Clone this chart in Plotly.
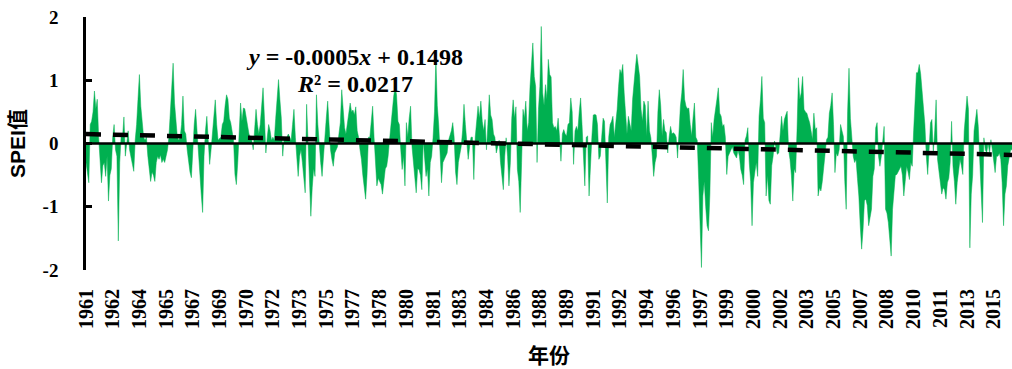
import plotly.graph_objects as go

# Monthly SPEI values, one row per year (Jan..Dec)
spei_1961_1970 = [
    -0.3, -0.45, -0.62, 0.3, 0.35, 0.5, 0.83, 0.55, 0.7, 0.1, -0.3, -0.62,
    -0.35, -0.3, -0.52, -0.2, -0.91, -0.5, -0.4, 0.1, 0.3, -0.1, -0.2, -1.54,
    -0.3, 0.12, 0.1, 0.42, -0.2, 0.05, 0.2, -0.1, -0.2, -0.35, -0.44, 0.05,
    0.3, 0.7, 1.09, 0.59, 0.3, 0.1, 0.05, 0.1, -0.2, -0.45, -0.6, -0.45,
    -0.5, -0.6, -0.3, -0.2, -0.25, -0.18, -0.3, -0.25, -0.3, -0.2, -0.1, 0.1,
    0.5, 0.8, 1.27, 0.64, 0.3, 0.1, 0.05, 0.1, 0.3, 0.75, 0.2, 0.15,
    -0.1, -0.3, -0.45, -0.54, -0.1, 0.3, 0.54, 0.2, -0.3, -0.6, -0.8, -1.09,
    -0.2, 0.2, 0.43, 0.05, -0.33, -0.1, 0.2, 0.45, 0.69, 0.3, 0.05, 0.08,
    0.1, 0.3, 0.35, 0.6, 0.77, 0.7, 0.4, 0.33, 0.2, 0.05, -0.49, -0.65,
    -0.3, 0.3, 0.64, 0.35, 0.56, 0.55, 0.4, 0.27, 0.15, 0.1, 0.05, -0.1,
]
spei_1971_1980 = [
    0.2, 0.54, 0.3, 0.15, 0.3, 0.56, 0.88, 0.4, -0.15, 0.1, 0.3, 0.2,
    0.05, 0.1, 0.05, 0.4, 0.8, 1.01, 0.69, 0.4, -0.2, 0.1, 0.05, 0.1,
    0.15, 0.1, 0.05, 0.3, 0.54, 0.1, -0.3, -0.52, -0.2, -0.1, -0.3, -0.5,
    -0.78, 0.62, 0.1, -0.5, -1.15, -0.7, -0.4, -0.52, 0.77, 0.3, -0.1, -0.3,
    -0.52, -0.2, 0.2, 0.4, 0.67, 0.2, -0.1, -0.25, -0.36, -0.15, -0.1, -0.05,
    0.15, 0.33, 0.85, 0.5, 0.25, 0.15, 0.3, 0.45, 0.64, 0.5, 0.53, 0.45,
    0.58, 0.2, 0.1, -0.1, -0.25, -0.5, -0.7, -0.88, -0.5, 0.1, 0.1, 0.3,
    0.59, 0.1, -0.4, -0.67, -0.55, -0.6, -0.65, -0.8, -0.55, -0.4, -0.36, -0.2,
    0.05, 0.3, 0.6, 0.75, 0.9, 0.77, 0.35, 0.3, -0.1, -0.41, -0.2, -0.67,
    0.33, 0.1, 0.4, 0.59, -0.05, -0.3, -0.52, -0.78, -0.4, -0.41, -0.5, -0.73,
]
spei_1981_1990 = [
    0.05, -0.3, -0.52, -0.4, -0.83, -0.3, -0.2, 0.1, 0.5, 1.35, 0.6, 0.3,
    -0.1, -0.62, -0.3, -0.25, -0.2, -0.15, 0.05, 0.12, 0.2, 0.33, 0.1, -0.45,
    -0.65, -0.3, -0.2, -0.05, 0.2, 0.62, 0.3, 0.05, -0.25, -0.05, 0.1, 0.1,
    -0.57, 0.1, 0.35, 0.59, 0.4, 0.67, 0.35, 0.2, 0.38, -0.1, 0.3, 0.77,
    0.45, 0.38, 0.15, 0.1, -0.15, -0.05, 0.05, -0.3, -0.5, -0.73, -0.2, 0.09,
    -0.2, -0.67, -0.3, 0.4, 0.69, 0.4, 0.58, -0.41, -0.6, -1.09, -0.3, 0.54,
    0.4, 0.67, 0.2, 0.33, 0.9, 1.2, 1.59, 1.06, 0.9, -0.3, 0.54, 0.9,
    1.85, 0.8, 0.6, 0.93, 0.7, 1.33, 1.09, 1.05, 0.33, 0.25, 0.27, 0.2,
    0.4, 0.1, -0.28, 0.15, 0.22, 0.15, 0.12, 0.3, 0.33, 0.72, 0.5, -0.33,
    0.2, 0.27, 0.2, 0.5, 0.72, 0.3, -0.25, -0.67, 0.1, 0.12, -0.83, -0.3,
]
spei_1991_2000 = [
    0.1, 0.45, 0.46, 0.45, 0.3, -0.25, -0.2, 0.1, 0.4, 0.35, -0.3, -0.94,
    0.1, 0.3, 0.35, 0.43, 0.1, 0.3, 0.54, 0.9, 1.17, 1.1, 1.25, 0.8,
    0.4, 0.15, 0.43, 0.3, 0.2, 0.7, 1.01, 1.2, 1.41, 1.2, 1.06, 0.54,
    0.35, 0.67, 0.6, 0.12, 0.67, 0.2, 0.09, -0.2, -0.52, -0.3, -0.2, 0.5,
    0.85, 0.6, 0.12, 0.38, 0.2, 0.17, -0.15, 0.1, 0.27, 0.15, 0.17, 0.15,
    0.1, -0.23, 0.3, 0.59, 0.8, 1.17, 0.7, 0.59, 0.55, 0.56, 0.3, 0.12,
    0.4, 0.64, 0.1, 0.05, -0.57, -1.25, -1.96, -0.83, -0.6, -1.0, -1.3, -1.38,
    -0.8, 0.33, 0.1, 0.38, 0.59, 0.7, 0.88, 0.48, 0.43, 0.27, 0.3, 0.1,
    -0.49, -0.2, -0.15, -0.1, -0.05, -0.15, -0.2, -0.23, -0.1, -0.2, -0.41, -0.5,
    -0.65, 0.05, 0.12, 0.25, -0.3, -0.6, -1.3, -0.62, -0.45, -0.3, -0.52, 0.43,
]
spei_2001_2010 = [
    0.7, 1.06, 0.4, 0.33, -0.83, -0.5, -0.9, -0.96, -0.35, -0.2, 0.04, -0.1,
    -0.17, -0.15, 0.1, 0.43, 0.2, 0.38, 0.45, 0.51, -0.1, -0.25, -0.5, -0.91,
    -0.4, -0.46, 0.2, 1.04, 0.7, 0.8, 1.06, 0.54, 0.5, 0.48, 0.4, 0.33,
    0.2, 0.06, 0.48, 0.22, 0.25, -0.83, -0.7, -0.75, -0.6, -0.36, -0.15, 0.06,
    0.1, 0.48, 0.6, 0.8, 0.3, -0.46, -0.15, -0.2, -0.1, 0.3, 0.2, 0.11,
    -0.6, -1.04, 0.5, 1.19, 0.4, 0.11, -0.2, -0.3, -0.25, -0.55, -0.83, -1.3,
    -1.67, -1.36, -0.9, -0.88, -0.98, -1.3, -1.15, -1.04, -0.52, -0.4, 0.25, 0.33,
    -0.2, -0.36, -0.2, 0.1, 0.27, -1.04, -1.1, -1.25, -1.5, -1.78, -1.04, -0.8,
    -0.5, -0.49, -0.45, -0.4, -0.36, -0.5, -0.83, -0.6, -0.36, -0.45, -0.57, -0.3,
    -0.36, 0.2, 0.6, 1.12, 1.12, 1.25, 1.1, 0.8, 0.54, 0.3, -0.2, -0.49,
]
spei_2011_2015 = [
    -0.1, 0.33, 0.38, -0.15, 0.2, 0.69, -0.25, -0.46, -0.6, -0.8, -0.7, -0.73,
    -0.88, -0.62, -0.55, -0.3, 0.35, -0.36, -0.6, -0.96, -0.62, -0.4, -0.25, -0.35,
    -0.49, 0.2, 0.43, 0.75, 0.54, -1.65, -0.8, -0.5, 0.2, 0.4, 0.54, 0.27,
    -0.3, -0.73, -1.25, 0.09, -0.1, -0.15, 0.01, -0.15, 0.06, -0.1, -0.3, -0.46,
    -0.2, -0.2, -0.15, -0.25, -0.62, -1.3, -0.8, -0.67, -0.35, -0.25, -0.1, -0.1,
]

# Year labels shown on the category axis (one every 19 months)
tick_labels = [
    "1961", "1962", "1964", "1965", "1967", "1969", "1970", "1972", "1973",
    "1975", "1977", "1978", "1980", "1981", "1983", "1984", "1986", "1988",
    "1989", "1991", "1992", "1994", "1996", "1997", "1999", "2000", "2002",
    "2003", "2005", "2007", "2008", "2010", "2011", "2013", "2015",
]
tick_step = 19

# Linear trend of the series
slope = -0.0005
intercept = 0.1498
r_squared = 0.0217

spei = (spei_1961_1970 + spei_1971_1980 + spei_1981_1990
        + spei_1991_2000 + spei_2001_2010 + spei_2011_2015)
n = len(spei)
idx = list(range(n))
trend = [intercept + slope * (i + 1) for i in idx]
tick_pos = [k * tick_step for k in range(len(tick_labels))]

SERIF = "Liberation Serif, Times New Roman, serif"
SANS = "Liberation Sans, Arial, Noto Sans CJK SC, sans-serif"

fig = go.Figure()
fig.add_trace(go.Scatter(
    x=idx, y=spei, mode="lines", fill="tozeroy",
    fillcolor="#00B050", line=dict(color="#00B050", width=0.5),
    hoverinfo="skip", showlegend=False,
))
# horizontal category axis sits at SPEI = 0
fig.add_trace(go.Scatter(
    x=[idx[0], idx[-1]], y=[0, 0], mode="lines",
    line=dict(color="black", width=2.6),
    hoverinfo="skip", showlegend=False,
))
fig.add_trace(go.Scatter(
    x=idx, y=trend, mode="lines",
    line=dict(color="black", width=4.5, dash="15px,12px"),
    hoverinfo="skip", showlegend=False,
))

fig.add_annotation(
    x=0.29, y=0.842, xref="paper", yref="paper", showarrow=False,
    xanchor="center", yanchor="middle",
    text="<b><i>y</i> = %.4f<i>x</i> + %.4f</b>" % (slope, intercept),
    font=dict(family=SERIF, size=24, color="black"),
)
fig.add_annotation(
    x=0.29, y=0.735, xref="paper", yref="paper", showarrow=False,
    xanchor="center", yanchor="middle",
    text="<b><i>R</i>² = %.4f</b>" % r_squared,
    font=dict(family=SERIF, size=24, color="black"),
)

fig.update_layout(
    width=1012, height=369,
    margin=dict(l=86, r=0, t=17, b=99),
    paper_bgcolor="white", plot_bgcolor="white",
    xaxis=dict(
        range=[0, n - 1], tickmode="array", tickvals=tick_pos, ticktext=tick_labels,
        tickangle=-90, showgrid=False, zeroline=False, showline=False, ticks="",
        ticklabelstandoff=14,
        tickfont=dict(family=SERIF, size=20, color="black", weight="bold"),
        title=dict(text="<b>年份</b>", font=dict(family=SANS, size=21, color="black"),
                   standoff=20),
    ),
    yaxis=dict(
        range=[-2, 2], tickvals=[-2, -1, 0, 1, 2], ticktext=["-2", "-1", "0", "1", "2"],
        showgrid=False, zeroline=False, showline=True, linecolor="black", linewidth=2.6,
        ticks="inside", ticklen=6, tickwidth=2.6, tickcolor="black",
        ticklabelstandoff=21,
        tickfont=dict(family=SERIF, size=19, color="black", weight="bold"),
        title=dict(text="<b>SPEI值</b>", font=dict(family=SANS, size=21, color="black"),
                   standoff=12),
    ),
)

fig.write_html("out.html")
